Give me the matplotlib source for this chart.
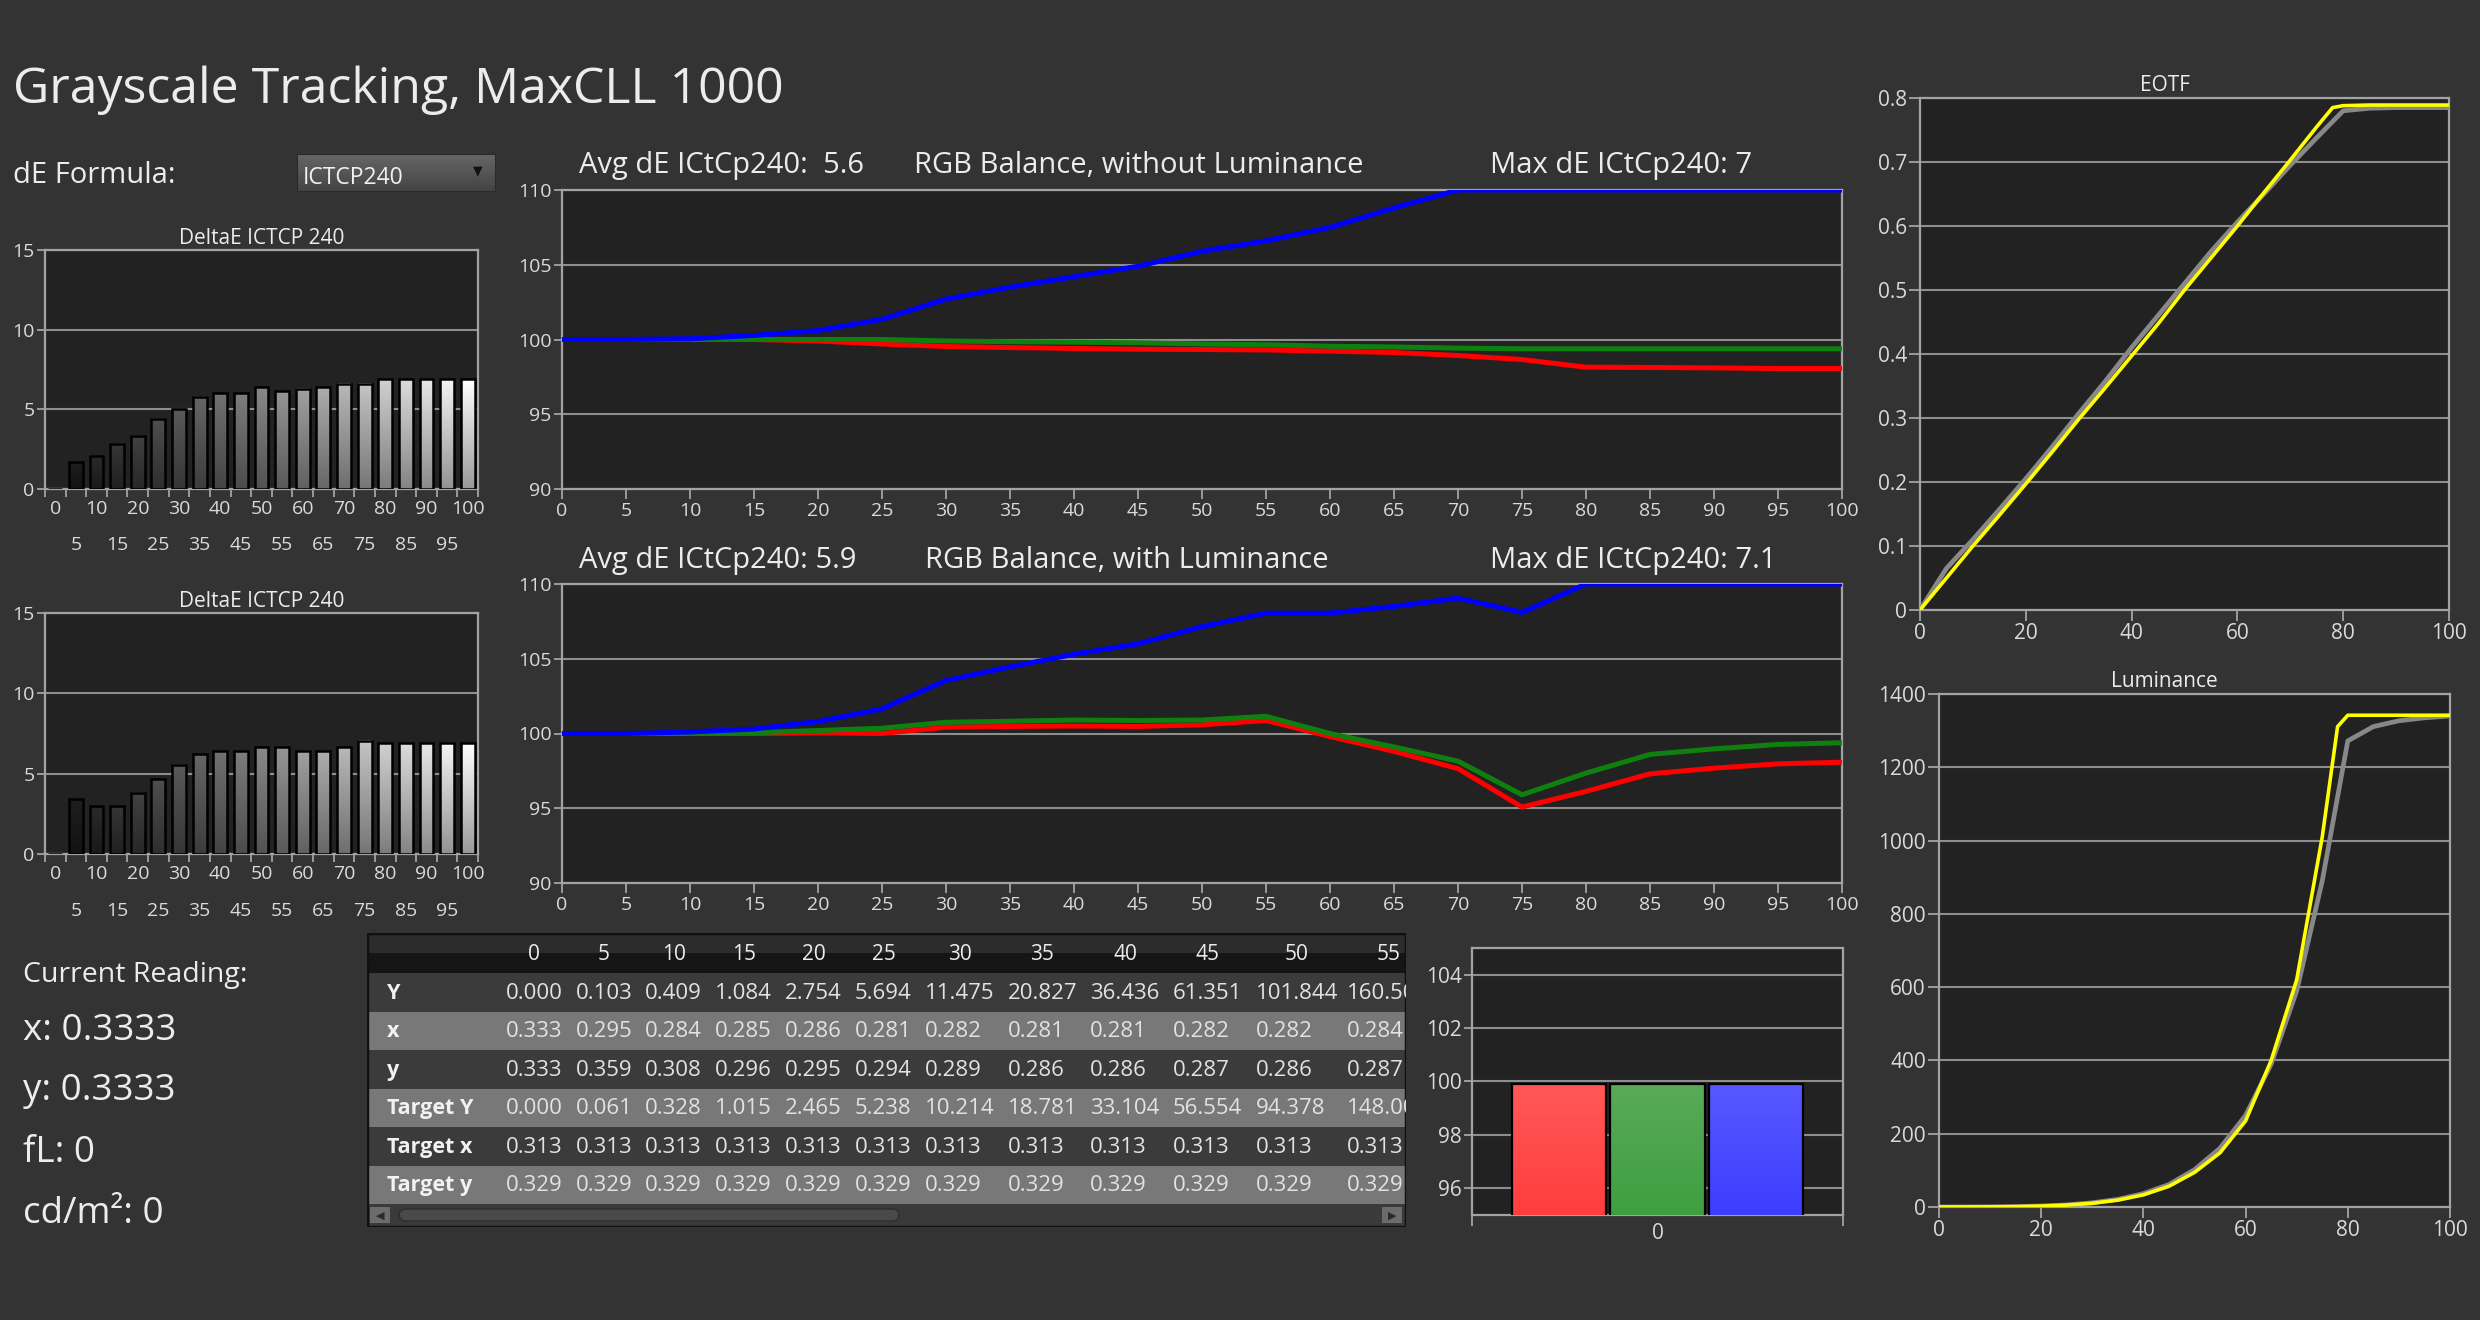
import numpy as np
import matplotlib
matplotlib.use('Agg')
import matplotlib.pyplot as plt
from matplotlib.patches import Rectangle, FancyBboxPatch
from matplotlib.transforms import blended_transform_factory
from matplotlib.colors import to_rgb
from matplotlib.ticker import FuncFormatter

plt.rcParams['font.family'] = ['Open Sans', 'DejaVu Sans']

# ---------------- data ----------------
levels = list(range(0, 101, 5))

de_without_lum = [0, 1.7, 2.1, 2.85, 3.35, 4.4, 5.05, 5.8, 6.0, 6.0, 6.4,
                  6.15, 6.3, 6.4, 6.6, 6.6, 6.9, 6.9, 6.9, 6.9, 6.9]
de_with_lum = [0, 3.4, 3.0, 3.0, 3.8, 4.65, 5.55, 6.2, 6.4, 6.4, 6.65,
               6.65, 6.4, 6.4, 6.65, 7.05, 6.9, 6.9, 6.9, 6.9, 6.9]

red_nolum = [100, 100, 100, 100, 99.9, 99.7, 99.53, 99.46, 99.4, 99.35, 99.33,
             99.3, 99.22, 99.13, 98.93, 98.66, 98.15, 98.13, 98.1, 98.06, 98.06]
green_nolum = [100, 100, 100, 100, 100, 100, 99.9, 99.85, 99.82, 99.78, 99.7,
               99.65, 99.55, 99.5, 99.42, 99.38, 99.38, 99.38, 99.38, 99.38, 99.38]
blue_nolum = [100, 100, 100.05, 100.27, 100.6, 101.35, 102.7, 103.5, 104.2, 104.9, 105.9,
              106.6, 107.5, 108.8, 110, 110, 110, 110, 110, 110, 110]

red_lum = [100, 100, 100, 100, 100.05, 100.0, 100.42, 100.47, 100.5, 100.47, 100.58,
           100.87, 99.8, 98.8, 97.65, 95.08, 96.13, 97.3, 97.68, 97.97, 98.08]
green_lum = [100, 100, 100, 100.05, 100.2, 100.35, 100.75, 100.82, 100.9, 100.87, 100.9,
             101.15, 100.0, 99.1, 98.15, 95.9, 97.35, 98.6, 98.97, 99.27, 99.38]
blue_lum = [100, 100, 100.1, 100.3, 100.8, 101.65, 103.55, 104.45, 105.3, 106.0, 107.15,
            108.05, 108.05, 108.5, 109.05, 108.1, 110, 110, 110, 110, 110]

eotf_measured = [0, 0.065, 0.11, 0.157, 0.205, 0.255, 0.307, 0.357, 0.41, 0.46, 0.51,
                 0.56, 0.606, 0.65, 0.695, 0.738, 0.78, 0.784, 0.785, 0.785, 0.785]
eotf_target_x = [0, 5, 10, 15, 20, 25, 30, 35, 40, 45, 50, 55, 60, 65, 70, 75, 78,
                 80, 85, 90, 95, 100]
eotf_target = [0, 0.05, 0.1, 0.148, 0.197, 0.247, 0.298, 0.347, 0.397, 0.447, 0.5,
               0.55, 0.6, 0.652, 0.703, 0.755, 0.785, 0.788, 0.789, 0.789, 0.789, 0.789]

lum_measured = [0.000, 0.103, 0.409, 1.084, 2.754, 5.694, 11.475, 20.827, 36.436, 61.351,
                101.844, 160.5, 250, 390, 590, 890, 1272, 1311, 1327, 1335, 1340]
lum_target_x = [0, 5, 10, 15, 20, 25, 30, 35, 40, 45, 50, 55, 60, 65, 70, 75, 78,
                80, 85, 90, 95, 100]
lum_target = [0.000, 0.061, 0.328, 1.015, 2.465, 5.238, 10.214, 18.781, 33.104, 56.554,
              94.378, 148.0, 235, 400, 620, 1010, 1311, 1342, 1342, 1342, 1342, 1342]

tab_x = [0.333, 0.295, 0.284, 0.285, 0.286, 0.281, 0.282, 0.281, 0.281, 0.282, 0.282, 0.284]
tab_y = [0.333, 0.359, 0.308, 0.296, 0.295, 0.294, 0.289, 0.286, 0.286, 0.287, 0.286, 0.287]
tab_target_x = [0.313] * 12
tab_target_y = [0.329] * 12
tab_rows = ['Y', 'x', 'y', 'Target Y', 'Target x', 'Target y']
tab_levels = levels[:12]

rgb_now_labels = ['R', 'G', 'B']
rgb_now = [99.9, 99.9, 99.9]

reading_x = 0.3333
reading_y = 0.3333
reading_fl = 0
reading_cd = 0

avg_de_nolum, max_de_nolum = '5.6', '7'
avg_de_lum, max_de_lum = '5.9', '7.1'

# ---------------- style ----------------
W, H, DPI = 2480, 1320, 100
BG = '#333333'
PBG = '#222222'
FRAME = '#a3a3a3'
GRID = '#8e8e8e'
TXT = '#ececec'
TLBL = '#dadada'

fig = plt.figure(figsize=(W / DPI, H / DPI), dpi=DPI, facecolor=BG)


def box(l, t, r, b):
    return [l / W, 1 - b / H, (r - l) / W, (b - t) / H]


def ftext(x, y, s, **kw):
    kw.setdefault('color', TXT)
    kw.setdefault('va', 'baseline')
    return fig.text(x / W, 1 - y / H, s, **kw)


def style(ax, fs=14):
    ax.set_facecolor(PBG)
    for sp in ax.spines.values():
        sp.set_color(FRAME)
        sp.set_linewidth(1.6)
    ax.tick_params(colors=FRAME, labelcolor=TLBL, labelsize=fs, length=6, width=1.3, pad=1.5)
    ax.yaxis.grid(True, color=GRID, linewidth=1.5)
    ax.set_axisbelow(True)


# ---------------- header ----------------
ftext(13, 103, 'Grayscale Tracking, MaxCLL 1000', fontsize=36)
ftext(13, 183, 'dE Formula:', fontsize=21)

ax_dd = fig.add_axes(box(297, 154, 495, 191))
ax_dd.imshow(np.linspace(0.27, 0.40, 20).reshape(-1, 1), cmap='gray', vmin=0, vmax=1,
             aspect='auto', extent=(0, 1, 0, 1), origin='lower')
ax_dd.set_xlim(0, 1)
ax_dd.set_ylim(0, 1)
ax_dd.set_xticks([])
ax_dd.set_yticks([])
for sp in ax_dd.spines.values():
    sp.set_color('#2a2a2a')
ax_dd.text(0.03, 0.36, 'ICTCP240', fontsize=16.5, color='#f0f0f0', va='center', ha='left')
ax_dd.text(0.915, 0.55, '▼', fontsize=9, color='#111111', va='center', ha='center',
           family='DejaVu Sans')


# ---------------- dE bar charts ----------------
def de_chart(rect, vals):
    ax = fig.add_axes(box(*rect))
    style(ax, 14)
    idx = np.arange(len(levels))
    n = len(levels)
    bars = ax.bar(idx, vals, width=0.67, color='none', edgecolor='black', linewidth=1.8, zorder=4)
    for i, b in enumerate(bars):
        h = b.get_height()
        if h <= 0:
            continue
        top = 0.12 + 0.88 * (i - 1) / (n - 2)
        grad = np.linspace(top * 0.6, top, 60).reshape(-1, 1)
        x0 = b.get_x()
        ax.imshow(grad, extent=(x0, x0 + b.get_width(), 0, h), origin='lower', cmap='gray',
                  vmin=0, vmax=1, aspect='auto', zorder=3, interpolation='bilinear')
    ax.set_xlim(-0.5, n - 0.5)
    ax.set_ylim(0, 15)
    ax.set_yticks([0, 5, 10, 15])
    ax.set_xticks(idx[::2])
    ax.set_xticklabels([str(levels[i]) for i in idx[::2]])
    ax.set_xticks(np.arange(n + 1) - 0.5, minor=True)
    ax.tick_params(axis='x', which='major', length=0, pad=8)
    ax.tick_params(axis='x', which='minor', length=6, color=FRAME, width=1.3)
    trans = blended_transform_factory(ax.transData, ax.transAxes)
    for i in idx[1::2]:
        ax.text(i, -0.235, str(levels[i]), transform=trans, ha='center', va='center',
                fontsize=14, color=TLBL)
    ax.set_title('DeltaE ICTCP 240', color=TXT, fontsize=15, pad=4)
    return ax


de_chart((45, 250, 478, 489), de_without_lum)
de_chart((45, 613, 478, 854), de_with_lum)


# ---------------- RGB balance charts ----------------
def rgb_chart(rect, r, g, b):
    ax = fig.add_axes(box(*rect))
    style(ax, 14)
    ax.plot(levels, r, color='#ff0000', lw=3.6, zorder=3)
    ax.plot(levels, g, color='#0f800f', lw=3.6, zorder=4)
    ax.plot(levels, b, color='#0000ff', lw=3.6, zorder=5)
    ax.set_xlim(0, 100)
    ax.set_ylim(90, 110)
    ax.set_xticks(levels)
    ax.set_yticks([90, 95, 100, 105, 110])
    ax.tick_params(axis='x', length=7, pad=2)
    return ax


rgb_chart((562, 190, 1842, 489), red_nolum, green_nolum, blue_nolum)
ftext(579, 173, f'Avg dE ICtCp240:  {avg_de_nolum}', fontsize=21)
ftext(914, 173, 'RGB Balance, without Luminance', fontsize=21)
ftext(1490, 173, f'Max dE ICtCp240: {max_de_nolum}', fontsize=21)

rgb_chart((562, 584, 1842, 883), red_lum, green_lum, blue_lum)
ftext(579, 568, f'Avg dE ICtCp240: {avg_de_lum}', fontsize=21)
ftext(925, 568, 'RGB Balance, with Luminance', fontsize=21)
ftext(1490, 568, f'Max dE ICtCp240: {max_de_lum}', fontsize=21)

# ---------------- EOTF ----------------
ax_e = fig.add_axes(box(1920, 98, 2449, 610))
style(ax_e, 15)
ax_e.plot(levels, eotf_measured, color='#888888', lw=3.4, zorder=3)
ax_e.plot(eotf_target_x, eotf_target, color='#ffff00', lw=2.6, zorder=4)
ax_e.set_xlim(0, 100)
ax_e.set_ylim(0, 0.8)
ax_e.set_xticks(range(0, 101, 20))
ax_e.set_yticks(np.arange(0, 0.81, 0.1))
ax_e.yaxis.set_major_formatter(FuncFormatter(lambda v, p: f'{round(v, 1):g}'))
ax_e.tick_params(length=8)
ftext(2165, 91, 'EOTF', ha='center', fontsize=15)

# ---------------- Luminance ----------------
ax_l = fig.add_axes(box(1939, 694, 2450, 1207))
style(ax_l, 15)
ax_l.plot(levels, lum_measured, color='#888888', lw=3.4, zorder=3)
ax_l.plot(lum_target_x, lum_target, color='#ffff00', lw=2.6, zorder=4)
ax_l.set_xlim(0, 100)
ax_l.set_ylim(0, 1400)
ax_l.set_xticks(range(0, 101, 20))
ax_l.set_yticks(range(0, 1401, 200))
ax_l.tick_params(length=8)
ftext(2164, 687, 'Luminance', ha='center', fontsize=15)

# ---------------- current RGB bars ----------------
ax_b = fig.add_axes(box(1472, 948, 1843, 1215))
style(ax_b, 15)
ylo = 95
pos = [-0.265, 0.0, 0.265]
cols = [('#ff3d3d', '#ff5858'), ('#3f9f3f', '#59aa59'), ('#3d3dff', '#5858ff')]
bars = ax_b.bar(pos, rgb_now, width=0.255, color='none', edgecolor='black', linewidth=1.6, zorder=4)
for b, (c0, c1) in zip(bars, cols):
    a0, a1 = np.array(to_rgb(c0)), np.array(to_rgb(c1))
    t = np.linspace(0, 1, 60).reshape(-1, 1, 1)
    grad = a0 * (1 - t) + a1 * t
    x0 = b.get_x()
    ax_b.imshow(grad, extent=(x0, x0 + b.get_width(), ylo, b.get_height()), origin='lower',
                aspect='auto', zorder=3, interpolation='bilinear')
ax_b.set_xlim(-0.5, 0.5)
ax_b.set_ylim(ylo, 105)
ax_b.set_yticks([96, 98, 100, 102, 104])
ax_b.set_xticks([0])
ax_b.set_xticks([-0.5, 0.5], minor=True)
ax_b.tick_params(axis='x', which='major', length=0, pad=6)
ax_b.tick_params(axis='x', which='minor', length=8, color=FRAME, width=1.3)

# ---------------- current reading ----------------
ftext(23, 982, 'Current Reading:', fontsize=20.5)
ftext(23, 1040, f'x: {reading_x:.4f}', fontsize=26.5)
ftext(23, 1100, f'y: {reading_y:.4f}', fontsize=26.5)
ftext(23, 1162, f'fL: {reading_fl}', fontsize=26.5)
ftext(23, 1223, f'cd/m²: {reading_cd}', fontsize=26.5)

# ---------------- table ----------------
TL, TT, TR, TB = 367, 933, 1406, 1227
ax_t = fig.add_axes(box(TL, TT, TR, TB))
ax_t.set_xlim(TL, TR)
ax_t.set_ylim(TB, TT)
ax_t.axis('off')
ax_t.add_patch(Rectangle((TL, TT), TR - TL, TB - TT, facecolor='#2a2a2a', edgecolor='none'))

row_data = [lum_measured[:12], tab_x, tab_y, lum_target[:12], tab_target_x, tab_target_y]
cells = [[f'{v:.3f}' for v in row] for row in row_data]
ncol = len(tab_levels)
nchar = np.array([max(len(r[j]) for r in cells) for j in range(ncol)])
col_w = np.minimum(12.8 * nchar + 5.9, 91.5)
col_left = 501.5 + np.concatenate([[0], np.cumsum(col_w)[:-1]])
text_w = 12.7 * nchar - 6.5

head_t, head_b = 933, 973
row_h = 38.5
ax_t.add_patch(Rectangle((TL, head_t), TR - TL, 20, facecolor='#2c2c2c', edgecolor='none'))
ax_t.add_patch(Rectangle((TL, head_t + 20), TR - TL, 20, facecolor='#151515', edgecolor='none'))
for j, lv in enumerate(tab_levels):
    ax_t.text(col_left[j] + 4 + text_w[j] / 2, (head_t + head_b) / 2 + 1, str(lv), ha='center',
              va='center', fontsize=15, color='#ececec', clip_on=True)
for i, name in enumerate(tab_rows):
    y0 = head_b + i * row_h
    ax_t.add_patch(Rectangle((TL, y0), TR - TL, row_h,
                             facecolor='#3b3b3b' if i % 2 == 0 else '#787878', edgecolor='none'))
    yc = y0 + row_h / 2 + 1
    ax_t.text(387, yc, name, ha='left', va='center', fontsize=15.5, fontweight='bold',
              color='#f2f2f2', clip_on=True)
    for j in range(ncol):
        ax_t.text(col_left[j] + 4, yc, cells[i][j], ha='left', va='center', fontsize=16,
                  color='#e2e2e2', clip_on=True)
sb_t = head_b + 6 * row_h
ax_t.add_patch(Rectangle((TL, sb_t), TR - TL, TB - sb_t, facecolor='#3a3a3a', edgecolor='none'))
ax_t.add_patch(FancyBboxPatch((399, sb_t + 5), 500, TB - sb_t - 11,
                              boxstyle='round,pad=0,rounding_size=7',
                              facecolor='#4a4a4a', edgecolor='#2e2e2e', lw=1))
ax_t.add_patch(Rectangle((TL + 3, sb_t + 3), 20, TB - sb_t - 7, facecolor='#6c6c6c', edgecolor='none'))
ax_t.add_patch(Rectangle((TR - 24, sb_t + 3), 20, TB - sb_t - 7, facecolor='#6c6c6c', edgecolor='none'))
ax_t.text(TL + 13, (sb_t + TB) / 2, '◀', ha='center', va='center', fontsize=8,
          color='#2a2a2a', family='DejaVu Sans')
ax_t.text(TR - 14, (sb_t + TB) / 2, '▶', ha='center', va='center', fontsize=8,
          color='#2a2a2a', family='DejaVu Sans')
ax_t.add_patch(Rectangle((TL, TT), TR - TL, TB - TT, facecolor='none', edgecolor='#101010', lw=2.5))

fig.savefig('out.png', dpi=DPI, facecolor=BG)
